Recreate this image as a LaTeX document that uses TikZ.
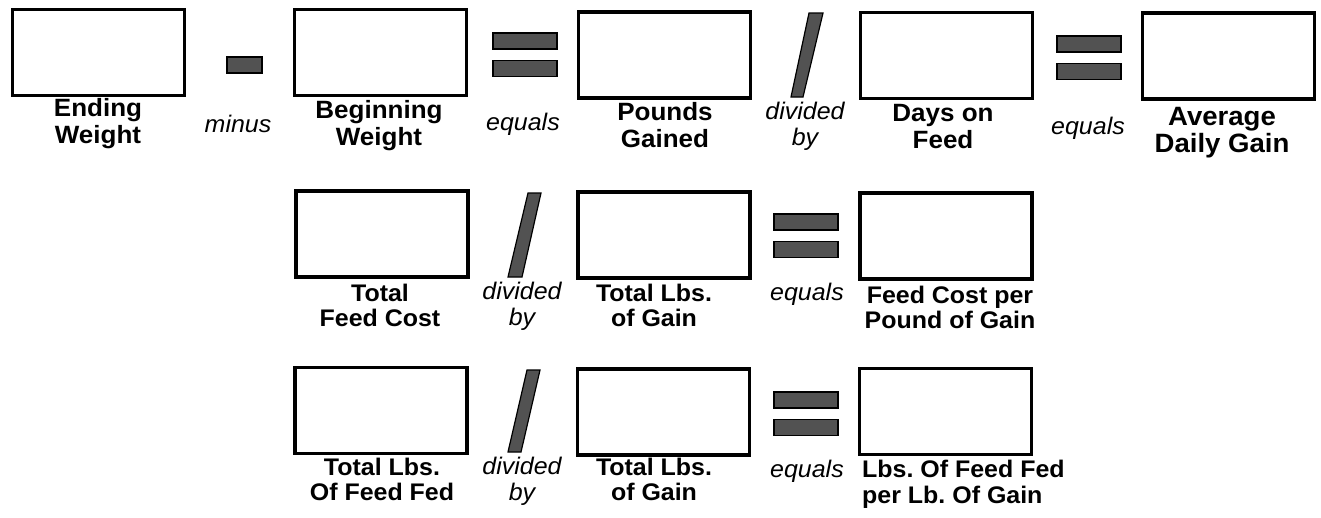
\documentclass[tikz,border=0pt]{standalone}
\usepackage{fontspec}
\setmainfont{Liberation Sans}[FakeStretch=1.04]
\usepackage{tikz}
\usetikzlibrary{positioning}
\frenchspacing

\begin{document}
\begin{tikzpicture}[x=1pt,y=-1pt,
  box/.style={draw,line width=3.8pt,minimum width=172pt,minimum height=86pt,inner sep=0pt},
  lbl/.style={font=\fontsize{24}{25.5}\selectfont\bfseries,align=center,anchor=north,inner sep=0pt},
  toplbl/.style={lbl,font=\fontsize{25}{26.5}\selectfont\bfseries},
  opword/.style={font=\fontsize{24}{26}\selectfont\itshape,align=center,inner sep=0pt},
  opbar/.style={fill=black!68,draw=black,line width=1.2pt}]
  \useasboundingbox (0,0) rectangle (1321,517);
  % blank boxes, top row
  \node[box] (endw) at (98.5,52.5) {};
  \node[box] (begw) at (380.5,52.5) {};
  \node[box] (pgain) at (664.5,55) {};
  \node[box] (dfeed) at (946.5,55.5) {};
  \node[box] (adg) at (1228.5,56) {};
  % blank boxes, feed cost row
  \node[box] (tfcost) at (382,234) {};
  \node[box] (tgain) at (664,235) {};
  \node[box] (fcpp) at (946,236) {};
  % blank boxes, feed efficiency row
  \node[box] (tfed) at (381,410.5) {};
  \node[box] (tgainb) at (663.5,412) {};
  \node[box] (ffpg) at (945.5,411.5) {};
  % operator signs
  \path[opbar] (227,57) rectangle (262,73);
  \foreach \x/\y in {493/33,1057/36,774/214,774/392}{
    \path[opbar] (\x,\y) rectangle ++(64,16);
    \path[opbar] (\x,\y+27.5) rectangle ++(64,16);
  }
  \path[opbar] (791,97) -- (803,97) -- (823,13) -- (809,13) -- cycle;
  \path[opbar] (508,277) -- (522,277) -- (541,193) -- (528,193) -- cycle;
  \path[opbar] (508,452) -- (521,452) -- (540,370) -- (527,370) -- cycle;
  % labels under the boxes
  \node[toplbl] (endl) at (98,98.5) {Ending\\Weight};
  \node[toplbl] (begl) at (379,100.5) {Beginning\\Weight};
  \node[toplbl] (pgainl) at (665,102.5) {Pounds\\Gained};
  \node[toplbl] (dfeedl) at (943,104.5) {Days on\\Feed};
  \node[toplbl,font=\fontsize{26.5}{27}\selectfont\bfseries] (adgl) at (1222,107) {Average\\Daily Gain};
  \node[lbl] (tfcostl) at (380,283.5) {Total\\Feed Cost};
  \node[lbl] (tgainl) at (654,283.5) {Total Lbs.\\of Gain};
  \node[lbl] (fcppl) at (950,285.5) {Feed Cost per\\Pound of Gain};
  \node[lbl] (tfedl) at (382,457.5) {Total Lbs.\\Of Feed Fed};
  \node[lbl] (tgainbl) at (654,457.5) {Total Lbs.\\of Gain};
  \node[lbl,align=left,anchor=north west] (ffpgl) at (862,460) {Lbs. Of Feed Fed\\per Lb. Of Gain};
  % operator words
  \node[opword,anchor=base] (minusw) at (238,132) {minus};
  \node[opword,anchor=base] (eqwa) at (523,130) {equals};
  \node[opword,anchor=north] (divwa) at (805,102) {divided\\by};
  \node[opword,anchor=base] (eqwb) at (1088,134) {equals};
  \node[opword,anchor=north] (divwb) at (522,282) {divided\\by};
  \node[opword,anchor=base] (eqwc) at (807,300) {equals};
  \node[opword,anchor=north] (divwc) at (522,457) {divided\\by};
  \node[opword,anchor=base] (eqwd) at (807,477) {equals};
\end{tikzpicture}
\end{document}
